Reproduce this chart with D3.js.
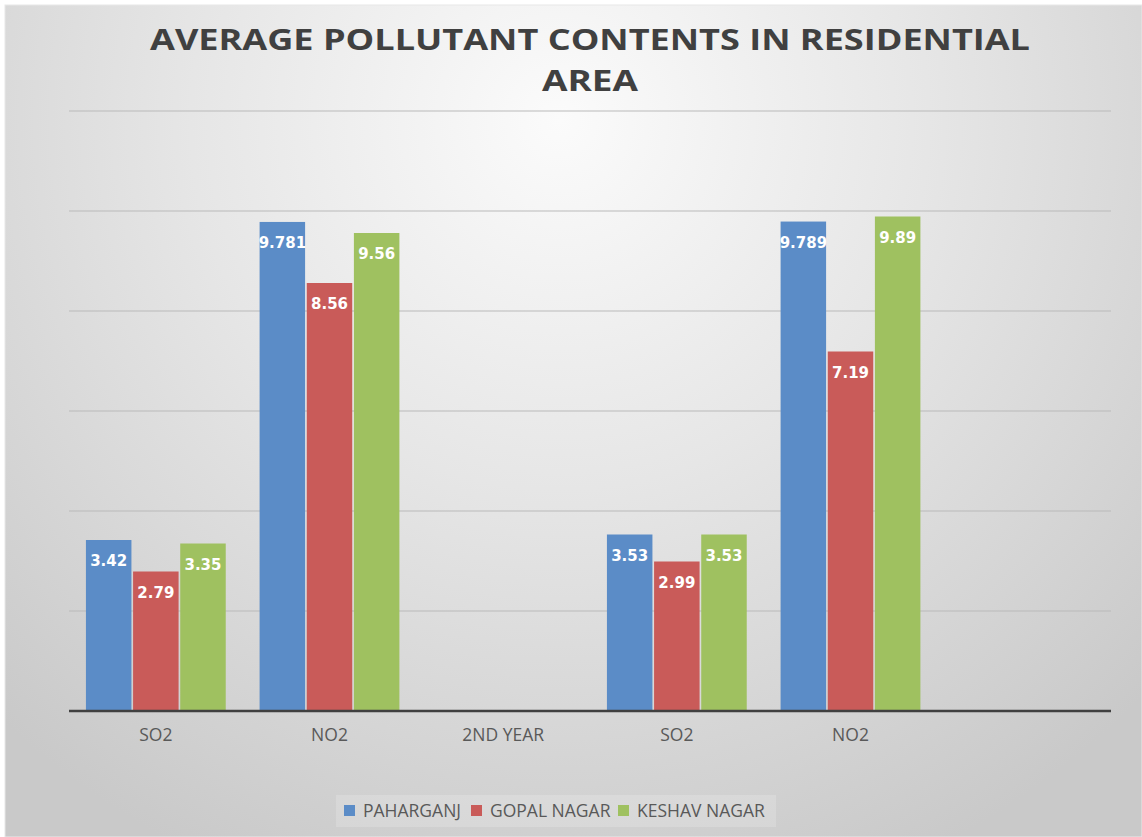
<!DOCTYPE html>
<html><head><meta charset="utf-8">
<script src="https://cdn.jsdelivr.net/npm/d3@7"></script>
<style>html,body{margin:0;padding:0;background:#fff;}svg{display:block;}</style>
</head><body>
<svg id="chart" width="1142" height="837"></svg>
<script>
const categories = ["SO2", "NO2", "2ND YEAR", "SO2", "NO2", ""];
const paharganj = [3.42, 9.781, null, 3.53, 9.789, null];
const gopalNagar = [2.79, 8.56, null, 2.99, 7.19, null];
const keshavNagar = [3.35, 9.56, null, 3.53, 9.89, null];
const seriesNames = ["PAHARGANJ", "GOPAL NAGAR", "KESHAV NAGAR"];
const seriesColors = ["#5b8cc7", "#c95b59", "#9fc160"];
const yTicks = [0, 2, 4, 6, 8, 10, 12];
const titleLines = ["AVERAGE POLLUTANT CONTENTS IN RESIDENTIAL", "AREA"];

const seriesData = [paharganj, gopalNagar, keshavNagar];
const W = 1142, H = 837;
const svg = d3.select("#chart");
const defs = svg.append("defs");
const grad = defs.append("radialGradient").attr("id", "bg")
  .attr("gradientUnits", "userSpaceOnUse")
  .attr("cx", 560).attr("cy", 120).attr("r", 820);
grad.append("stop").attr("offset", "0%").attr("stop-color", "#fbfbfb");
grad.append("stop").attr("offset", "45%").attr("stop-color", "#e6e6e6");
grad.append("stop").attr("offset", "100%").attr("stop-color", "#c9c9c9");

svg.append("rect").attr("x", 0).attr("y", 0).attr("width", W).attr("height", H).attr("fill", "#fff");
svg.append("rect").attr("x", 5).attr("y", 5).attr("width", W - 5).attr("height", H - 5)
  .attr("fill", "url(#bg)").attr("stroke", "#e8e8e8").attr("stroke-width", 1);

const pLeft = 69, pRight = 1111, pTop = 111, pBottom = 711;
const x0 = d3.scaleBand().domain(d3.range(categories.length)).range([pLeft, pRight]).paddingInner(0.195).paddingOuter(0.0975);
const x1 = d3.scaleBand().domain(d3.range(seriesNames.length)).range([0, x0.bandwidth()]).paddingInner(0.035);
const y = d3.scaleLinear().domain([0, 12]).range([pBottom, pTop]);

// gridlines
svg.append("g").selectAll("line").data(yTicks.filter(t => t > 0)).join("line")
  .attr("x1", pLeft).attr("x2", pRight)
  .attr("y1", d => y(d)).attr("y2", d => y(d))
  .attr("stroke", "#b9b9b9").attr("stroke-width", 1.2);

// bars
const groups = svg.append("g").selectAll("g").data(categories.map((c, i) => i)).join("g")
  .attr("transform", i => `translate(${x0(i)},0)`);
groups.each(function(i) {
  const g = d3.select(this);
  seriesData.forEach((arr, s) => {
    const v = arr[i];
    if (v == null) return;
    g.append("rect").attr("x", x1(s)).attr("width", x1.bandwidth())
      .attr("y", y(v)).attr("height", y(0) - y(v)).attr("fill", seriesColors[s]);
    g.append("text").attr("x", x1(s) + x1.bandwidth() / 2).attr("y", y(v) + 26)
      .attr("text-anchor", "middle").attr("fill", "#fff")
      .attr("font-family", "DejaVu Sans").attr("font-weight", "bold").attr("font-size", 15)
      .text(String(v));
  });
});

// baseline
svg.append("line").attr("x1", pLeft).attr("x2", pRight).attr("y1", y(0)).attr("y2", y(0))
  .attr("stroke", "#404040").attr("stroke-width", 2.5);

// x axis labels
svg.append("g").selectAll("text").data(categories.map((c, i) => i)).join("text")
  .attr("x", i => x0(i) + x0.bandwidth() / 2).attr("y", 741)
  .attr("text-anchor", "middle").attr("fill", "#595959")
  .attr("font-family", "Open Sans").attr("font-size", 17.5)
  .text(i => categories[i]);

// title
svg.append("g").selectAll("text").data(titleLines).join("text")
  .attr("x", 590).attr("y", (d, i) => 50 + i * 41)
  .attr("text-anchor", "middle").attr("fill", "#404040")
  .attr("font-family", "Open Sans").attr("font-weight", "bold").attr("font-size", 29)
  .attr("textLength", (d, i) => i === 0 ? 880 : 96).attr("lengthAdjust", "spacingAndGlyphs")
  .text(d => d);

// legend
svg.append("rect").attr("x", 336).attr("y", 795).attr("width", 440).attr("height", 32)
  .attr("fill", "#ffffff").attr("opacity", 0.18);
const legendX = [344, 471, 618];
const leg = svg.append("g").selectAll("g").data(seriesNames).join("g")
  .attr("transform", (d, i) => `translate(${legendX[i]},805)`);
leg.append("rect").attr("width", 11).attr("height", 11).attr("fill", (d, i) => seriesColors[i]);
leg.append("text").attr("x", 19).attr("y", 12).attr("fill", "#595959")
  .attr("font-family", "Open Sans").attr("font-size", 17.5).text(d => d);
</script>
</body></html>
